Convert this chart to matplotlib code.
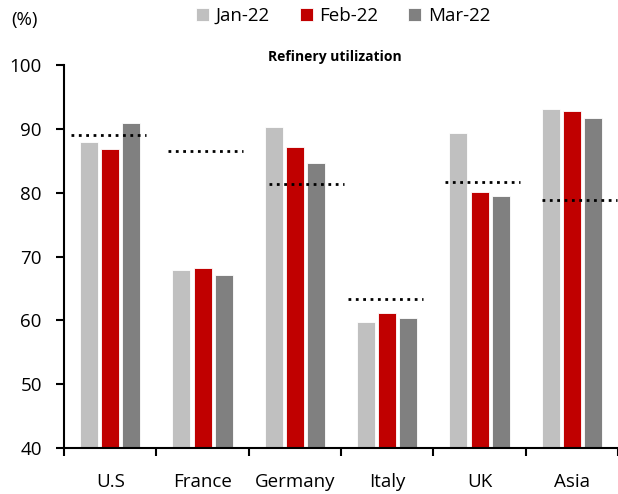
import matplotlib.pyplot as plt
import numpy as np

plt.rcParams['font.family'] = ['Open Sans', 'DejaVu Sans']

regions = ['U.S', 'France', 'Germany', 'Italy', 'UK', 'Asia']
jan22 = [87.9, 67.9, 90.3, 59.8, 89.3, 93.2]
feb22 = [86.8, 68.2, 87.2, 61.1, 80.2, 92.8]
mar22 = [91.0, 67.1, 84.7, 60.4, 79.5, 91.8]
# dotted reference lines (long-run average) and where each one starts inside its category
avg = [89.0, 86.6, 81.4, 63.3, 81.7, 78.9]
avg_start = [0.08, 0.13, 0.22, 0.08, 0.13, 0.18]

fig = plt.figure(figsize=(6.18, 4.94), dpi=100)
ax = fig.add_axes([0.1036, 0.093, 0.8964, 0.775])

x = np.arange(len(regions))
w = 0.195
step = 0.228
ax.bar(x - step, jan22, w, color='#C0C0C0', edgecolor='white', linewidth=0.6, label='Jan-22')
ax.bar(x, feb22, w, color='#C00000', edgecolor='white', linewidth=0.6, label='Feb-22')
ax.bar(x + step, mar22, w, color='#808080', edgecolor='white', linewidth=0.6, label='Mar-22')

for i in range(len(regions)):
    x0 = i - 0.5 + avg_start[i]
    ax.plot([x0, x0 + 0.81], [avg[i], avg[i]], ':', color='black', linewidth=2.0, clip_on=False)

ax.set_ylim(40, 100)
ax.set_xlim(-0.5, 5.5)
ax.set_yticks(range(40, 101, 10))
ax.set_xticks(x)
ax.set_xticklabels(regions)
ax.set_xticks(np.arange(-0.5, 6, 1), minor=True)
ax.tick_params(axis='x', which='major', length=0, pad=18, labelsize=13.5)
ax.tick_params(axis='x', which='minor', direction='out', length=6, width=1.5)
ax.tick_params(axis='y', direction='out', length=6, width=1.5, labelsize=13.5, pad=10)

for s in ['top', 'right']:
    ax.spines[s].set_visible(False)
for s in ['left', 'bottom']:
    ax.spines[s].set_linewidth(1.5)

fig.text(0.542, 0.885, 'Refinery utilization', ha='center', va='center', fontsize=10, fontweight='bold')
fig.text(0.04, 0.96, '(%)', ha='center', va='center', fontsize=13.5)
fig.legend(loc='center', bbox_to_anchor=(0.555, 0.968), ncol=3, frameon=False, fontsize=13.5,
           handlelength=0.7, handleheight=0.7, handletextpad=0.35, columnspacing=1.6)

plt.savefig('out.png', dpi=100)
